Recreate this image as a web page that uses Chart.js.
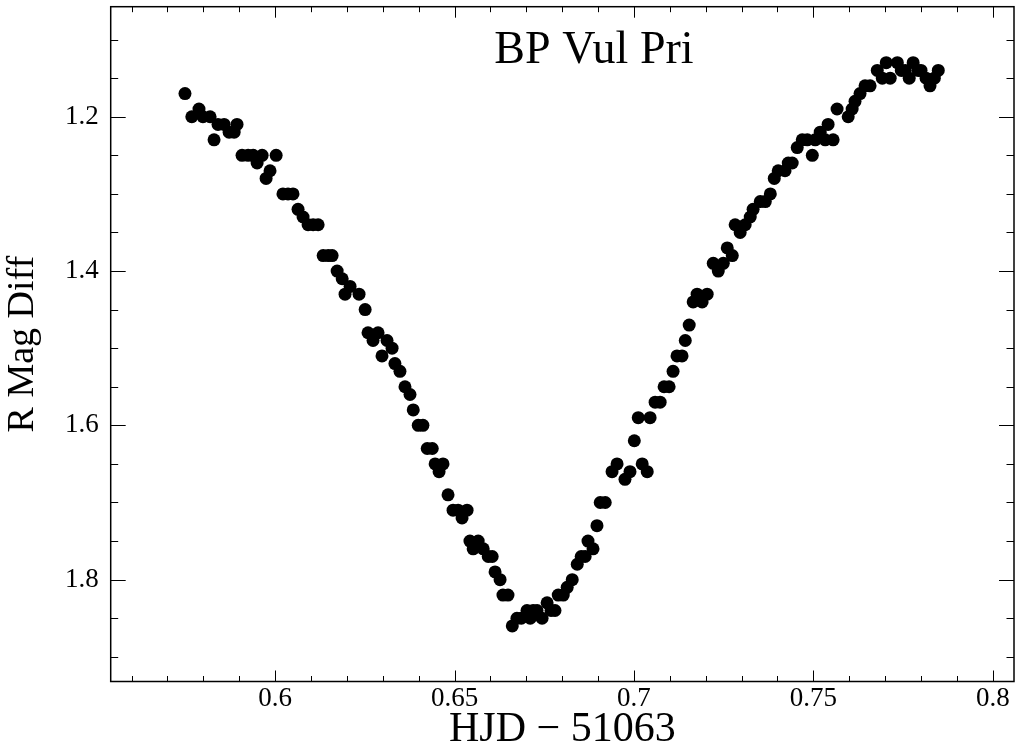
<!DOCTYPE html>
<html>
<head>
<meta charset="utf-8">
<script src="https://cdn.jsdelivr.net/npm/chart.js@4"></script>
<style>
  html, body { margin: 0; padding: 0; background: #fff; }
  #wrap { width: 1015px; height: 749px; }
</style>
</head>
<body>
<div id="wrap"><canvas id="myChart" width="1015" height="749"></canvas></div>
<script>
// light curve, HJD - 51063 vs R magnitude difference
const hjd = [
  0.5749, 0.5768, 0.5788, 0.5799, 0.5819, 0.5830, 0.5841, 0.5858, 0.5872, 0.5886,
  0.5894, 0.5908, 0.5925, 0.5939, 0.5950, 0.5964, 0.5975, 0.5986, 0.6003, 0.6022,
  0.6036, 0.6050, 0.6064, 0.6078, 0.6092, 0.6106, 0.6120, 0.6134, 0.6148, 0.6159,
  0.6173, 0.6187, 0.6195, 0.6209, 0.6234, 0.6251, 0.6259, 0.6273, 0.6287, 0.6298,
  0.6312, 0.6326, 0.6334, 0.6348, 0.6362, 0.6376, 0.6385, 0.6399, 0.6412, 0.6424,
  0.6438, 0.6446, 0.6457, 0.6468, 0.6482, 0.6496, 0.6510, 0.6521, 0.6535, 0.6543,
  0.6552, 0.6566, 0.6580, 0.6594, 0.6605, 0.6613, 0.6627, 0.6635, 0.6649, 0.6661,
  0.6674, 0.6686, 0.6702, 0.6711, 0.6719, 0.6730, 0.6744, 0.6758, 0.6769, 0.6780,
  0.6789, 0.6803, 0.6814, 0.6828, 0.6842, 0.6853, 0.6864, 0.6872, 0.6886, 0.6897,
  0.6906, 0.6920, 0.6939, 0.6953, 0.6975, 0.6989, 0.7001, 0.7012, 0.7023, 0.7037,
  0.7045, 0.7059, 0.7073, 0.7084, 0.7098, 0.7109, 0.7120, 0.7134, 0.7143, 0.7154,
  0.7165, 0.7176, 0.7190, 0.7204, 0.7221, 0.7235, 0.7249, 0.7260, 0.7274, 0.7282,
  0.7296, 0.7310, 0.7324, 0.7332, 0.7352, 0.7366, 0.7380, 0.7391, 0.7402, 0.7421,
  0.7430, 0.7441, 0.7455, 0.7469, 0.7483, 0.7497, 0.7505, 0.7519, 0.7533, 0.7541,
  0.7555, 0.7566, 0.7597, 0.7608, 0.7616, 0.7630, 0.7644, 0.7658, 0.7678, 0.7692,
  0.7703, 0.7714, 0.7734, 0.7745, 0.7756, 0.7767, 0.7778, 0.7792, 0.7800, 0.7814,
  0.7825, 0.7837, 0.7848
];
const rMag = [
  1.17, 1.20, 1.19, 1.20, 1.20, 1.23, 1.21, 1.21, 1.22, 1.22,
  1.21, 1.25, 1.25, 1.25, 1.26, 1.25, 1.28, 1.27, 1.25, 1.30,
  1.30, 1.30, 1.32, 1.33, 1.34, 1.34, 1.34, 1.38, 1.38, 1.38,
  1.40, 1.41, 1.43, 1.42, 1.43, 1.45, 1.48, 1.49, 1.48, 1.51,
  1.49, 1.50, 1.52, 1.53, 1.55, 1.56, 1.58, 1.60, 1.60, 1.63,
  1.63, 1.65, 1.66, 1.65, 1.69, 1.71, 1.71, 1.72, 1.71, 1.75,
  1.76, 1.75, 1.76, 1.77, 1.77, 1.79, 1.80, 1.82, 1.82, 1.86,
  1.85, 1.85, 1.84, 1.85, 1.84, 1.84, 1.85, 1.83, 1.84, 1.84,
  1.82, 1.82, 1.81, 1.80, 1.78, 1.77, 1.77, 1.75, 1.76, 1.73,
  1.70, 1.70, 1.66, 1.65, 1.67, 1.66, 1.62, 1.59, 1.65, 1.66,
  1.59, 1.57, 1.57, 1.55, 1.55, 1.53, 1.51, 1.51, 1.49, 1.47,
  1.44, 1.43, 1.44, 1.43, 1.39, 1.40, 1.39, 1.37, 1.38, 1.34,
  1.35, 1.34, 1.33, 1.32, 1.31, 1.31, 1.30, 1.28, 1.27, 1.27,
  1.26, 1.26, 1.24, 1.23, 1.23, 1.25, 1.23, 1.22, 1.23, 1.21,
  1.23, 1.19, 1.20, 1.19, 1.18, 1.17, 1.16, 1.16, 1.14, 1.15,
  1.13, 1.15, 1.13, 1.14, 1.14, 1.15, 1.13, 1.14, 1.14, 1.15,
  1.16, 1.15, 1.14
];
const xTickLabels = [0.6, 0.65, 0.7, 0.75, 0.8];
const yTickLabels = [1.2, 1.4, 1.6, 1.8];

const points = hjd.map((x, i) => ({ x: x, y: rMag[i] }));
const FONT = "'Liberation Serif', 'DejaVu Serif', serif";

// frame, inward ticks on all four sides, and the title inside the box
const frame = {
  id: 'frame',
  afterDraw(chart) {
    const ctx = chart.ctx;
    const a = chart.chartArea;
    const sx = chart.scales.x, sy = chart.scales.y;
    ctx.save();
    ctx.strokeStyle = '#000';
    ctx.lineWidth = 1;
    ctx.beginPath();
    for (let k = 56; k <= 80; k++) {
      const v = k / 100;
      const px = Math.round(sx.getPixelForValue(v)) + 0.5;
      const len = (k % 5 === 0) ? 11 : 5.5;
      ctx.moveTo(px, a.bottom); ctx.lineTo(px, a.bottom - len);
      ctx.moveTo(px, a.top); ctx.lineTo(px, a.top + len);
    }
    for (let k = 22; k <= 38; k++) {
      const v = k / 20;
      const py = Math.round(sy.getPixelForValue(v)) + 0.5;
      const len = (k % 4 === 0) ? 15 : 7.5;
      ctx.moveTo(a.left, py); ctx.lineTo(a.left + len, py);
      ctx.moveTo(a.right, py); ctx.lineTo(a.right - len, py);
    }
    ctx.stroke();
    ctx.lineWidth = 1.5;
    ctx.strokeRect(a.left, a.top, a.right - a.left, a.bottom - a.top);
    ctx.fillStyle = '#000';
    ctx.font = '46px ' + FONT;
    ctx.textAlign = 'center';
    ctx.textBaseline = 'middle';
    ctx.fillText('BP Vul Pri', a.left + (a.right - a.left) * 0.535, a.top + 44);
    ctx.restore();
  }
};

new Chart(document.querySelector('#myChart'), {
  type: 'scatter',
  data: {
    datasets: [{
      data: points,
      backgroundColor: '#000',
      borderColor: '#000',
      pointRadius: 6.5,
      pointHoverRadius: 6.5,
      borderWidth: 0
    }]
  },
  options: {
    responsive: false,
    animation: false,
    events: [],
    layout: { autoPadding: false, padding: { top: 6.7, right: 1, left: 0, bottom: 0 } },
    plugins: { legend: { display: false }, tooltip: { enabled: false } },
    scales: {
      x: {
        type: 'linear',
        min: 0.5542,
        max: 0.8059,
        afterBuildTicks: s => { s.ticks = xTickLabels.map(v => ({ value: v })); },
        afterFit: s => { s.height = 67.5; s.paddingLeft = 0; s.paddingRight = 0; },
        grid: { display: false, drawTicks: false },
        border: { display: false },
        ticks: {
          color: '#000',
          padding: 1,
          maxRotation: 0,
          font: { family: FONT, size: 27 },
          callback: v => String(+v.toFixed(2))
        },
        title: {
          display: true,
          text: 'HJD − 51063',
          color: '#000',
          font: { family: FONT, size: 42 },
          padding: { top: 0, bottom: -6 }
        }
      },
      y: {
        type: 'linear',
        reverse: true,
        min: 1.0574,
        max: 1.932,
        afterBuildTicks: s => { s.ticks = yTickLabels.map(v => ({ value: v })); },
        afterFit: s => { s.width = 110.7; s.paddingTop = 0; s.paddingBottom = 0; },
        grid: { display: false, drawTicks: false },
        border: { display: false },
        ticks: {
          color: '#000',
          padding: 12,
          font: { family: FONT, size: 27 },
          callback: v => String(+v.toFixed(1))
        },
        title: {
          display: true,
          text: 'R Mag Diff',
          color: '#000',
          font: { family: FONT, size: 38 },
          padding: { top: 0, bottom: 0 }
        }
      }
    }
  },
  plugins: [frame]
});
</script>
</body>
</html>
